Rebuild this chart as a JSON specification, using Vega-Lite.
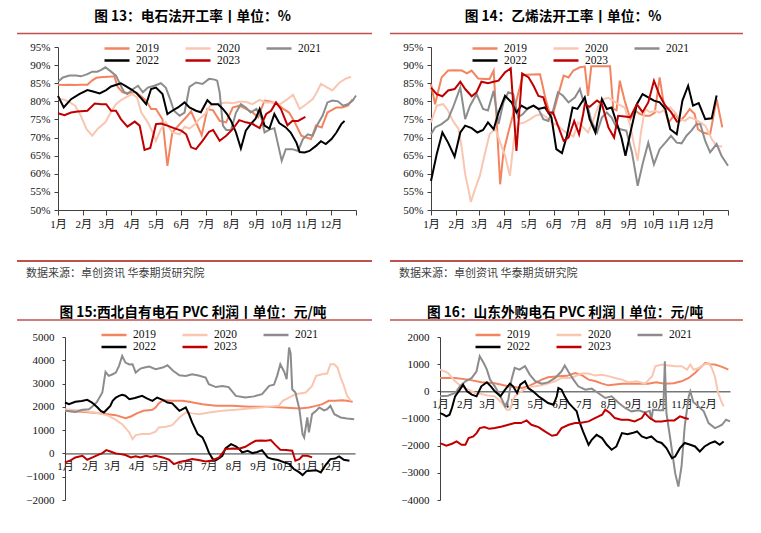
{
"$schema": "https://vega.github.io/schema/vega-lite/v6.json",
"padding": {"left": 16, "top": 10, "right": 5, "bottom": 5},
"background": "white",
"config": {
  "view": {"stroke": null},
  "font": "Liberation Serif",
  "title": {"font": "Noto Sans CJK SC", "fontSize": 13.7, "fontWeight": "bold", "color": "#000", "anchor": "middle", "baseline": "bottom", "frame": "group"},
  "axis": {"grid": false, "domainColor": "#404040", "tickColor": "#404040", "labelColor": "#111", "labelFont": "Liberation Serif, Noto Sans CJK SC", "labelFontSize": 11, "labelOverlap": false, "labelFlush": false},
  "legend": {"orient": "none", "direction": "horizontal", "columns": 3, "columnPadding": 25, "rowPadding": 0, "clipHeight": 12, "symbolType": "stroke", "symbolSize": 625, "symbolStrokeWidth": 2.5, "labelFont": "Liberation Serif", "labelFontSize": 11.5, "labelColor": "#111", "labelOffset": 5, "padding": 0}
},
"datasets": {
"p1": [
{"s":"2019","t":0,"v":84.6},{"s":"2019","t":7,"v":84.5},{"s":"2019","t":14,"v":84.6},{"s":"2019","t":21,"v":84.5},{"s":"2019","t":28,"v":84.6},{"s":"2019","t":36,"v":84.6},{"s":"2019","t":42,"v":85.8},{"s":"2019","t":47,"v":86.5},{"s":"2019","t":55,"v":86.7},{"s":"2019","t":62,"v":86.8},{"s":"2019","t":69,"v":86.9},{"s":"2019","t":73,"v":84},{"s":"2019","t":79,"v":82.5},{"s":"2019","t":86,"v":82.3},{"s":"2019","t":95,"v":82.5},{"s":"2019","t":101,"v":81.5},{"s":"2019","t":108,"v":80.2},{"s":"2019","t":114,"v":77.9},{"s":"2019","t":120,"v":77.9},{"s":"2019","t":128,"v":75},{"s":"2019","t":134,"v":62.2},{"s":"2019","t":140,"v":71.4},{"s":"2019","t":149,"v":73.7},{"s":"2019","t":157,"v":75.6},{"s":"2019","t":163,"v":77.2},{"s":"2019","t":169,"v":74.2},{"s":"2019","t":176,"v":70.7},{"s":"2019","t":183,"v":77.9},{"s":"2019","t":190,"v":77.5},{"s":"2019","t":198,"v":74.6},{"s":"2019","t":206,"v":74.2},{"s":"2019","t":214,"v":78.3},{"s":"2019","t":222,"v":78.8},{"s":"2019","t":230,"v":77.9},{"s":"2019","t":238,"v":77},{"s":"2019","t":245,"v":75.6},{"s":"2019","t":253,"v":80.2},{"s":"2019","t":261,"v":79.9},{"s":"2019","t":269,"v":79.2},{"s":"2019","t":276,"v":77.9},{"s":"2019","t":283,"v":76.9},{"s":"2019","t":290,"v":74.2},{"s":"2019","t":298,"v":70.5},{"s":"2019","t":304,"v":70},{"s":"2019","t":310,"v":69.6},{"s":"2019","t":316,"v":73.3},{"s":"2019","t":323,"v":72.8},{"s":"2019","t":330,"v":76.9},{"s":"2019","t":341,"v":78.3},{"s":"2019","t":348,"v":78.3},{"s":"2019","t":355,"v":78.8},{"s":"2019","t":361,"v":80.6},
{"s":"2020","t":0,"v":80.7},{"s":"2020","t":7,"v":80.5},{"s":"2020","t":14,"v":79.8},{"s":"2020","t":21,"v":78.8},{"s":"2020","t":28,"v":76},{"s":"2020","t":35,"v":72.3},{"s":"2020","t":42,"v":70.5},{"s":"2020","t":49,"v":72.5},{"s":"2020","t":58,"v":74.2},{"s":"2020","t":66,"v":77.5},{"s":"2020","t":71,"v":79.2},{"s":"2020","t":78,"v":80.5},{"s":"2020","t":83,"v":81.1},{"s":"2020","t":91,"v":82},{"s":"2020","t":97,"v":81},{"s":"2020","t":102,"v":76.9},{"s":"2020","t":110,"v":74.2},{"s":"2020","t":116,"v":71.4},{"s":"2020","t":120,"v":69.1},{"s":"2020","t":126,"v":72.3},{"s":"2020","t":132,"v":74.2},{"s":"2020","t":140,"v":71.4},{"s":"2020","t":149,"v":70.9},{"s":"2020","t":155,"v":73},{"s":"2020","t":161,"v":72.5},{"s":"2020","t":167,"v":73.5},{"s":"2020","t":173,"v":75.1},{"s":"2020","t":180,"v":76.5},{"s":"2020","t":187,"v":79},{"s":"2020","t":194,"v":79.2},{"s":"2020","t":200,"v":79.5},{"s":"2020","t":206,"v":79.7},{"s":"2020","t":214,"v":79.5},{"s":"2020","t":222,"v":79.9},{"s":"2020","t":230,"v":79.9},{"s":"2020","t":238,"v":79.2},{"s":"2020","t":247,"v":80.4},{"s":"2020","t":255,"v":79.7},{"s":"2020","t":263,"v":79.7},{"s":"2020","t":272,"v":79.2},{"s":"2020","t":281,"v":80.6},{"s":"2020","t":288,"v":81.8},{"s":"2020","t":296,"v":77.9},{"s":"2020","t":304,"v":79.2},{"s":"2020","t":312,"v":80.6},{"s":"2020","t":317,"v":82.5},{"s":"2020","t":322,"v":84.8},{"s":"2020","t":330,"v":83.8},{"s":"2020","t":336,"v":83},{"s":"2020","t":345,"v":85.2},{"s":"2020","t":353,"v":86.3},{"s":"2020","t":359,"v":86.8},
{"s":"2021","t":0,"v":85.4},{"s":"2021","t":6,"v":86.6},{"s":"2021","t":14,"v":87.1},{"s":"2021","t":22,"v":87.1},{"s":"2021","t":28,"v":86.9},{"s":"2021","t":36,"v":87.5},{"s":"2021","t":42,"v":88.2},{"s":"2021","t":48,"v":88.2},{"s":"2021","t":53,"v":88.7},{"s":"2021","t":58,"v":89.4},{"s":"2021","t":65,"v":88.2},{"s":"2021","t":71,"v":87.1},{"s":"2021","t":77,"v":84.3},{"s":"2021","t":81,"v":82.5},{"s":"2021","t":85,"v":82},{"s":"2021","t":92,"v":83.4},{"s":"2021","t":98,"v":84.3},{"s":"2021","t":104,"v":82.5},{"s":"2021","t":110,"v":83.8},{"s":"2021","t":118,"v":84.3},{"s":"2021","t":126,"v":85},{"s":"2021","t":132,"v":83.8},{"s":"2021","t":138,"v":80.2},{"s":"2021","t":142,"v":77.4},{"s":"2021","t":149,"v":76},{"s":"2021","t":155,"v":76.9},{"s":"2021","t":161,"v":84},{"s":"2021","t":169,"v":85.2},{"s":"2021","t":177,"v":84.8},{"s":"2021","t":185,"v":86.2},{"s":"2021","t":192,"v":86},{"s":"2021","t":195,"v":85.7},{"s":"2021","t":198,"v":82.5},{"s":"2021","t":202,"v":73.3},{"s":"2021","t":206,"v":72.1},{"s":"2021","t":212,"v":72.1},{"s":"2021","t":218,"v":76.9},{"s":"2021","t":224,"v":79.2},{"s":"2021","t":230,"v":78.3},{"s":"2021","t":236,"v":76.9},{"s":"2021","t":243,"v":77.9},{"s":"2021","t":249,"v":75.6},{"s":"2021","t":253,"v":71.4},{"s":"2021","t":259,"v":72.2},{"s":"2021","t":265,"v":72.6},{"s":"2021","t":269,"v":68.6},{"s":"2021","t":274,"v":63.6},{"s":"2021","t":279,"v":66.8},{"s":"2021","t":287,"v":66.8},{"s":"2021","t":294,"v":66.3},{"s":"2021","t":300,"v":69.6},{"s":"2021","t":306,"v":70.9},{"s":"2021","t":312,"v":70.5},{"s":"2021","t":318,"v":73.7},{"s":"2021","t":324,"v":76},{"s":"2021","t":330,"v":79.7},{"s":"2021","t":336,"v":80.2},{"s":"2021","t":343,"v":80},{"s":"2021","t":349,"v":78.8},{"s":"2021","t":355,"v":79.2},{"s":"2021","t":361,"v":80.2},{"s":"2021","t":365,"v":81.6},
{"s":"2022","t":0,"v":81.5},{"s":"2022","t":7,"v":78.3},{"s":"2022","t":16,"v":80.6},{"s":"2022","t":26,"v":82},{"s":"2022","t":36,"v":83.1},{"s":"2022","t":43,"v":82.7},{"s":"2022","t":51,"v":82.2},{"s":"2022","t":59,"v":83.1},{"s":"2022","t":65,"v":84.1},{"s":"2022","t":77,"v":85},{"s":"2022","t":83,"v":84.2},{"s":"2022","t":89,"v":83.4},{"s":"2022","t":96,"v":82.3},{"s":"2022","t":102,"v":80.8},{"s":"2022","t":108,"v":79.2},{"s":"2022","t":114,"v":83.4},{"s":"2022","t":120,"v":83.8},{"s":"2022","t":128,"v":82},{"s":"2022","t":134,"v":76.5},{"s":"2022","t":140,"v":77.4},{"s":"2022","t":147,"v":78.3},{"s":"2022","t":155,"v":79.7},{"s":"2022","t":161,"v":78.3},{"s":"2022","t":169,"v":77.4},{"s":"2022","t":175,"v":77},{"s":"2022","t":183,"v":80.3},{"s":"2022","t":188,"v":79.2},{"s":"2022","t":196,"v":79.2},{"s":"2022","t":202,"v":77.9},{"s":"2022","t":207,"v":76.5},{"s":"2022","t":212,"v":74.6},{"s":"2022","t":218,"v":71.4},{"s":"2022","t":224,"v":67},{"s":"2022","t":230,"v":71.9},{"s":"2022","t":236,"v":73.7},{"s":"2022","t":242,"v":75.2},{"s":"2022","t":247,"v":77.9},{"s":"2022","t":253,"v":73.3},{"s":"2022","t":259,"v":72.5},{"s":"2022","t":265,"v":76.5},{"s":"2022","t":271,"v":74},{"s":"2022","t":279,"v":72.8},{"s":"2022","t":285,"v":71.4},{"s":"2022","t":292,"v":68.6},{"s":"2022","t":296,"v":66},{"s":"2022","t":302,"v":65.9},{"s":"2022","t":308,"v":66.3},{"s":"2022","t":316,"v":67.7},{"s":"2022","t":322,"v":69},{"s":"2022","t":328,"v":68.2},{"s":"2022","t":335,"v":69.6},{"s":"2022","t":341,"v":71.4},{"s":"2022","t":347,"v":73.7},{"s":"2022","t":351,"v":74.6},
{"s":"2023","t":0,"v":76.7},{"s":"2023","t":8,"v":76.2},{"s":"2023","t":16,"v":76.9},{"s":"2023","t":24,"v":77.2},{"s":"2023","t":36,"v":77.4},{"s":"2023","t":45,"v":79.4},{"s":"2023","t":53,"v":79.2},{"s":"2023","t":59,"v":79.2},{"s":"2023","t":65,"v":77.4},{"s":"2023","t":71,"v":77.4},{"s":"2023","t":77,"v":75.1},{"s":"2023","t":85,"v":73},{"s":"2023","t":94,"v":74.4},{"s":"2023","t":100,"v":73.3},{"s":"2023","t":106,"v":66.6},{"s":"2023","t":113,"v":67.1},{"s":"2023","t":120,"v":73.7},{"s":"2023","t":126,"v":73.9},{"s":"2023","t":134,"v":73.3},{"s":"2023","t":142,"v":72.6},{"s":"2023","t":151,"v":71.9},{"s":"2023","t":157,"v":70.9},{"s":"2023","t":163,"v":67.3},{"s":"2023","t":169,"v":66.8},{"s":"2023","t":177,"v":69.1},{"s":"2023","t":185,"v":71.6},{"s":"2023","t":190,"v":72.1},{"s":"2023","t":198,"v":69.1},{"s":"2023","t":206,"v":70.5},{"s":"2023","t":214,"v":72.3},{"s":"2023","t":222,"v":74.8},{"s":"2023","t":230,"v":74.2},{"s":"2023","t":238,"v":73.8},{"s":"2023","t":247,"v":72.6},{"s":"2023","t":255,"v":76.5},{"s":"2023","t":261,"v":77.4},{"s":"2023","t":267,"v":79.7},{"s":"2023","t":273,"v":77.9},{"s":"2023","t":281,"v":73.4},{"s":"2023","t":287,"v":74.6},{"s":"2023","t":294,"v":74.6},{"s":"2023","t":303,"v":75.7}
],
"p2": [
{"s":"2019","t":0,"v":84.8},{"s":"2019","t":5,"v":79.2},{"s":"2019","t":13,"v":86.6},{"s":"2019","t":21,"v":88.5},{"s":"2019","t":29,"v":88.6},{"s":"2019","t":38,"v":88.5},{"s":"2019","t":44,"v":87.7},{"s":"2019","t":50,"v":88.5},{"s":"2019","t":58,"v":86.3},{"s":"2019","t":66,"v":86.2},{"s":"2019","t":72,"v":86.2},{"s":"2019","t":77,"v":88.5},{"s":"2019","t":81,"v":73.3},{"s":"2019","t":85,"v":57.1},{"s":"2019","t":89,"v":65.9},{"s":"2019","t":95,"v":71.4},{"s":"2019","t":101,"v":76.5},{"s":"2019","t":107,"v":82},{"s":"2019","t":113,"v":87.3},{"s":"2019","t":124,"v":87.4},{"s":"2019","t":134,"v":87.5},{"s":"2019","t":140,"v":81.5},{"s":"2019","t":146,"v":76.5},{"s":"2019","t":150,"v":76.5},{"s":"2019","t":156,"v":81.5},{"s":"2019","t":163,"v":87.1},{"s":"2019","t":169,"v":86.6},{"s":"2019","t":175,"v":88.5},{"s":"2019","t":183,"v":89.4},{"s":"2019","t":189,"v":89.6},{"s":"2019","t":193,"v":81.5},{"s":"2019","t":197,"v":89.7},{"s":"2019","t":205,"v":89.7},{"s":"2019","t":213,"v":89.7},{"s":"2019","t":220,"v":89.7},{"s":"2019","t":224,"v":77.9},{"s":"2019","t":228,"v":77.5},{"s":"2019","t":232,"v":85.7},{"s":"2019","t":238,"v":80.2},{"s":"2019","t":245,"v":75.1},{"s":"2019","t":251,"v":77.4},{"s":"2019","t":257,"v":76.5},{"s":"2019","t":263,"v":76},{"s":"2019","t":269,"v":76},{"s":"2019","t":275,"v":76.9},{"s":"2019","t":281,"v":86.6},{"s":"2019","t":287,"v":77.9},{"s":"2019","t":292,"v":74.2},{"s":"2019","t":300,"v":76.5},{"s":"2019","t":306,"v":74.6},{"s":"2019","t":312,"v":76},{"s":"2019","t":318,"v":77.9},{"s":"2019","t":324,"v":76.5},{"s":"2019","t":328,"v":72.3},{"s":"2019","t":334,"v":71.4},{"s":"2019","t":343,"v":70.9},{"s":"2019","t":351,"v":80.6},{"s":"2019","t":358,"v":72.8},
{"s":"2020","t":0,"v":74.2},{"s":"2020","t":7,"v":78.8},{"s":"2020","t":15,"v":79.2},{"s":"2020","t":21,"v":77.4},{"s":"2020","t":27,"v":74.6},{"s":"2020","t":34,"v":72.3},{"s":"2020","t":38,"v":66.8},{"s":"2020","t":42,"v":59.9},{"s":"2020","t":46,"v":55.7},{"s":"2020","t":49,"v":52.2},{"s":"2020","t":54,"v":55.7},{"s":"2020","t":60,"v":59.4},{"s":"2020","t":66,"v":65.4},{"s":"2020","t":72,"v":70.9},{"s":"2020","t":79,"v":72.5},{"s":"2020","t":85,"v":68.6},{"s":"2020","t":91,"v":65},{"s":"2020","t":97,"v":59.4},{"s":"2020","t":102,"v":69.6},{"s":"2020","t":107,"v":73.7},{"s":"2020","t":115,"v":74.2},{"s":"2020","t":122,"v":75.1},{"s":"2020","t":128,"v":76},{"s":"2020","t":136,"v":76.5},{"s":"2020","t":142,"v":75.6},{"s":"2020","t":148,"v":74.2},{"s":"2020","t":156,"v":73.3},{"s":"2020","t":163,"v":71.9},{"s":"2020","t":169,"v":71},{"s":"2020","t":175,"v":70.3},{"s":"2020","t":181,"v":74.2},{"s":"2020","t":187,"v":72.8},{"s":"2020","t":193,"v":71.4},{"s":"2020","t":199,"v":74.6},{"s":"2020","t":206,"v":78.8},{"s":"2020","t":212,"v":80.6},{"s":"2020","t":218,"v":81},{"s":"2020","t":224,"v":80.2},{"s":"2020","t":230,"v":79.2},{"s":"2020","t":238,"v":78.3},{"s":"2020","t":245,"v":73.3},{"s":"2020","t":249,"v":68.6},{"s":"2020","t":254,"v":63.6},{"s":"2020","t":258,"v":71.4},{"s":"2020","t":263,"v":77.9},{"s":"2020","t":269,"v":77},{"s":"2020","t":275,"v":77.4},{"s":"2020","t":281,"v":76.9},{"s":"2020","t":288,"v":77.8},{"s":"2020","t":294,"v":78.3},{"s":"2020","t":300,"v":76.9},{"s":"2020","t":306,"v":75.1},{"s":"2020","t":312,"v":74.6},{"s":"2020","t":318,"v":75.6},{"s":"2020","t":324,"v":75.1},{"s":"2020","t":331,"v":74.2},{"s":"2020","t":337,"v":73.3},{"s":"2020","t":345,"v":69.6},{"s":"2020","t":351,"v":67.7},{"s":"2020","t":358,"v":67.5},
{"s":"2021","t":0,"v":70.9},{"s":"2021","t":5,"v":72.8},{"s":"2021","t":13,"v":73.7},{"s":"2021","t":21,"v":75.1},{"s":"2021","t":27,"v":78.3},{"s":"2021","t":36,"v":83.8},{"s":"2021","t":42,"v":75.1},{"s":"2021","t":48,"v":78.8},{"s":"2021","t":56,"v":82},{"s":"2021","t":64,"v":77.9},{"s":"2021","t":70,"v":77.5},{"s":"2021","t":77,"v":82.9},{"s":"2021","t":83,"v":73.7},{"s":"2021","t":89,"v":79.7},{"s":"2021","t":95,"v":82.5},{"s":"2021","t":101,"v":82},{"s":"2021","t":107,"v":75.6},{"s":"2021","t":113,"v":76.5},{"s":"2021","t":120,"v":78.3},{"s":"2021","t":126,"v":78.8},{"s":"2021","t":132,"v":77.9},{"s":"2021","t":138,"v":75.1},{"s":"2021","t":144,"v":74.6},{"s":"2021","t":150,"v":77.4},{"s":"2021","t":156,"v":82.5},{"s":"2021","t":162,"v":81.6},{"s":"2021","t":169,"v":79.7},{"s":"2021","t":177,"v":81.1},{"s":"2021","t":183,"v":83.4},{"s":"2021","t":187,"v":80.2},{"s":"2021","t":193,"v":78.3},{"s":"2021","t":197,"v":74.6},{"s":"2021","t":204,"v":71.4},{"s":"2021","t":210,"v":75.5},{"s":"2021","t":216,"v":76.9},{"s":"2021","t":222,"v":75.5},{"s":"2021","t":228,"v":72.8},{"s":"2021","t":234,"v":72.2},{"s":"2021","t":240,"v":71.9},{"s":"2021","t":247,"v":65.9},{"s":"2021","t":254,"v":56.7},{"s":"2021","t":260,"v":62.6},{"s":"2021","t":267,"v":68.6},{"s":"2021","t":274,"v":62.6},{"s":"2021","t":281,"v":66.8},{"s":"2021","t":288,"v":68.6},{"s":"2021","t":295,"v":70.5},{"s":"2021","t":302,"v":68.6},{"s":"2021","t":308,"v":68.4},{"s":"2021","t":314,"v":70.5},{"s":"2021","t":320,"v":71.9},{"s":"2021","t":326,"v":73.7},{"s":"2021","t":331,"v":73.7},{"s":"2021","t":337,"v":69.1},{"s":"2021","t":343,"v":65.9},{"s":"2021","t":351,"v":68.2},{"s":"2021","t":357,"v":65},{"s":"2021","t":365,"v":62.2},
{"s":"2022","t":0,"v":58},{"s":"2022","t":7,"v":65.4},{"s":"2022","t":14,"v":71.4},{"s":"2022","t":21,"v":68.6},{"s":"2022","t":29,"v":64.7},{"s":"2022","t":36,"v":71.4},{"s":"2022","t":42,"v":73.3},{"s":"2022","t":50,"v":72.6},{"s":"2022","t":57,"v":71.4},{"s":"2022","t":64,"v":72.1},{"s":"2022","t":70,"v":74.2},{"s":"2022","t":77,"v":72.3},{"s":"2022","t":83,"v":76.9},{"s":"2022","t":91,"v":81.5},{"s":"2022","t":99,"v":79.7},{"s":"2022","t":105,"v":76.9},{"s":"2022","t":111,"v":78.8},{"s":"2022","t":118,"v":77.9},{"s":"2022","t":126,"v":78.8},{"s":"2022","t":132,"v":77.9},{"s":"2022","t":140,"v":78.3},{"s":"2022","t":148,"v":75.6},{"s":"2022","t":154,"v":66.8},{"s":"2022","t":161,"v":65.7},{"s":"2022","t":167,"v":70.5},{"s":"2022","t":174,"v":78.3},{"s":"2022","t":180,"v":77.9},{"s":"2022","t":189,"v":81.1},{"s":"2022","t":195,"v":75.1},{"s":"2022","t":202,"v":71.4},{"s":"2022","t":210,"v":80.6},{"s":"2022","t":216,"v":77.9},{"s":"2022","t":222,"v":78.3},{"s":"2022","t":228,"v":74.2},{"s":"2022","t":234,"v":70},{"s":"2022","t":239,"v":65},{"s":"2022","t":246,"v":72.3},{"s":"2022","t":253,"v":79.2},{"s":"2022","t":260,"v":82},{"s":"2022","t":267,"v":81.1},{"s":"2022","t":274,"v":80.2},{"s":"2022","t":281,"v":79.7},{"s":"2022","t":288,"v":77.9},{"s":"2022","t":294,"v":72.3},{"s":"2022","t":302,"v":70.9},{"s":"2022","t":309,"v":80.2},{"s":"2022","t":316,"v":84.3},{"s":"2022","t":322,"v":78.8},{"s":"2022","t":329,"v":79.5},{"s":"2022","t":337,"v":75.1},{"s":"2022","t":345,"v":75.3},{"s":"2022","t":351,"v":81.6},
{"s":"2023","t":0,"v":83.8},{"s":"2023","t":7,"v":82},{"s":"2023","t":14,"v":81.4},{"s":"2023","t":21,"v":83},{"s":"2023","t":29,"v":83.4},{"s":"2023","t":36,"v":85.4},{"s":"2023","t":42,"v":83.4},{"s":"2023","t":50,"v":81.4},{"s":"2023","t":56,"v":82.5},{"s":"2023","t":62,"v":85.4},{"s":"2023","t":70,"v":85},{"s":"2023","t":77,"v":85.4},{"s":"2023","t":83,"v":85.7},{"s":"2023","t":91,"v":88},{"s":"2023","t":98,"v":89.1},{"s":"2023","t":105,"v":66.3},{"s":"2023","t":112,"v":87.7},{"s":"2023","t":120,"v":86.6},{"s":"2023","t":126,"v":84.3},{"s":"2023","t":132,"v":81.5},{"s":"2023","t":138,"v":81.1},{"s":"2023","t":144,"v":76.9},{"s":"2023","t":150,"v":76.9},{"s":"2023","t":156,"v":73.3},{"s":"2023","t":163,"v":69.1},{"s":"2023","t":169,"v":70},{"s":"2023","t":176,"v":74.6},{"s":"2023","t":182,"v":70.9},{"s":"2023","t":187,"v":76.5},{"s":"2023","t":189,"v":79.2},{"s":"2023","t":195,"v":78.5},{"s":"2023","t":204,"v":80.2},{"s":"2023","t":210,"v":79.3},{"s":"2023","t":218,"v":72.8},{"s":"2023","t":225,"v":70},{"s":"2023","t":230,"v":76},{"s":"2023","t":238,"v":75.8},{"s":"2023","t":245,"v":75.6},{"s":"2023","t":253,"v":79.2},{"s":"2023","t":260,"v":77},{"s":"2023","t":267,"v":79.7},{"s":"2023","t":274,"v":85.7},{"s":"2023","t":281,"v":81.6},{"s":"2023","t":288,"v":78.8},{"s":"2023","t":295,"v":77},{"s":"2023","t":303,"v":74.2}
],
"p3": [
{"s":"2019","t":0,"v":1830},{"s":"2019","t":22,"v":1785},{"s":"2019","t":43,"v":1730},{"s":"2019","t":64,"v":1644},{"s":"2019","t":76,"v":1515},{"s":"2019","t":83,"v":1587},{"s":"2019","t":91,"v":1730},{"s":"2019","t":99,"v":1830},{"s":"2019","t":110,"v":1873},{"s":"2019","t":114,"v":1973},{"s":"2019","t":118,"v":2150},{"s":"2019","t":123,"v":2280},{"s":"2019","t":135,"v":2260},{"s":"2019","t":148,"v":2258},{"s":"2019","t":156,"v":2215},{"s":"2019","t":173,"v":2115},{"s":"2019","t":190,"v":2043},{"s":"2019","t":211,"v":2043},{"s":"2019","t":232,"v":2000},{"s":"2019","t":253,"v":2000},{"s":"2019","t":274,"v":1972},{"s":"2019","t":295,"v":1929},{"s":"2019","t":307,"v":1972},{"s":"2019","t":316,"v":2043},{"s":"2019","t":324,"v":2115},{"s":"2019","t":332,"v":2258},{"s":"2019","t":340,"v":2258},{"s":"2019","t":349,"v":2280},{"s":"2019","t":355,"v":2258},{"s":"2019","t":362,"v":2215},
{"s":"2020","t":0,"v":1900},{"s":"2020","t":22,"v":1830},{"s":"2020","t":43,"v":1730},{"s":"2020","t":55,"v":1615},{"s":"2020","t":64,"v":1444},{"s":"2020","t":72,"v":1258},{"s":"2020","t":81,"v":901},{"s":"2020","t":85,"v":615},{"s":"2020","t":89,"v":787},{"s":"2020","t":97,"v":830},{"s":"2020","t":106,"v":830},{"s":"2020","t":114,"v":930},{"s":"2020","t":118,"v":1115},{"s":"2020","t":127,"v":1150},{"s":"2020","t":135,"v":1215},{"s":"2020","t":144,"v":1544},{"s":"2020","t":152,"v":1758},{"s":"2020","t":160,"v":1720},{"s":"2020","t":169,"v":1687},{"s":"2020","t":181,"v":1760},{"s":"2020","t":198,"v":1830},{"s":"2020","t":215,"v":1873},{"s":"2020","t":232,"v":1930},{"s":"2020","t":250,"v":1980},{"s":"2020","t":269,"v":2044},{"s":"2020","t":274,"v":2258},{"s":"2020","t":282,"v":2400},{"s":"2020","t":290,"v":2543},{"s":"2020","t":303,"v":2615},{"s":"2020","t":311,"v":2900},{"s":"2020","t":316,"v":3330},{"s":"2020","t":324,"v":3400},{"s":"2020","t":330,"v":3430},{"s":"2020","t":334,"v":3830},{"s":"2020","t":339,"v":3830},{"s":"2020","t":343,"v":3687},{"s":"2020","t":347,"v":3258},{"s":"2020","t":351,"v":2900},{"s":"2020","t":355,"v":2472},{"s":"2020","t":360,"v":2258},
{"s":"2021","t":0,"v":1830},{"s":"2021","t":13,"v":1785},{"s":"2021","t":22,"v":1873},{"s":"2021","t":30,"v":1900},{"s":"2021","t":34,"v":2000},{"s":"2021","t":40,"v":2200},{"s":"2021","t":47,"v":2615},{"s":"2021","t":51,"v":3500},{"s":"2021","t":55,"v":3330},{"s":"2021","t":60,"v":3400},{"s":"2021","t":64,"v":3472},{"s":"2021","t":68,"v":3760},{"s":"2021","t":72,"v":4187},{"s":"2021","t":76,"v":3900},{"s":"2021","t":81,"v":3820},{"s":"2021","t":85,"v":3830},{"s":"2021","t":89,"v":3472},{"s":"2021","t":95,"v":3644},{"s":"2021","t":100,"v":3690},{"s":"2021","t":106,"v":3730},{"s":"2021","t":114,"v":3620},{"s":"2021","t":123,"v":3687},{"s":"2021","t":129,"v":3786},{"s":"2021","t":136,"v":3550},{"s":"2021","t":144,"v":3358},{"s":"2021","t":152,"v":3330},{"s":"2021","t":160,"v":3400},{"s":"2021","t":168,"v":3350},{"s":"2021","t":177,"v":3258},{"s":"2021","t":181,"v":2972},{"s":"2021","t":190,"v":2850},{"s":"2021","t":198,"v":2900},{"s":"2021","t":206,"v":2850},{"s":"2021","t":215,"v":2472},{"s":"2021","t":227,"v":2400},{"s":"2021","t":238,"v":2450},{"s":"2021","t":248,"v":2543},{"s":"2021","t":257,"v":2900},{"s":"2021","t":263,"v":2950},{"s":"2021","t":267,"v":3330},{"s":"2021","t":271,"v":3830},{"s":"2021","t":276,"v":3500},{"s":"2021","t":279,"v":3187},{"s":"2021","t":282,"v":4545},{"s":"2021","t":284,"v":4300},{"s":"2021","t":286,"v":2758},{"s":"2021","t":290,"v":2615},{"s":"2021","t":295,"v":1900},{"s":"2021","t":299,"v":830},{"s":"2021","t":301,"v":687},{"s":"2021","t":305,"v":1544},{"s":"2021","t":307,"v":901},{"s":"2021","t":311,"v":1687},{"s":"2021","t":316,"v":1830},{"s":"2021","t":320,"v":1973},{"s":"2021","t":326,"v":1850},{"s":"2021","t":330,"v":1900},{"s":"2021","t":334,"v":2044},{"s":"2021","t":339,"v":1687},{"s":"2021","t":347,"v":1544},{"s":"2021","t":355,"v":1500},{"s":"2021","t":364,"v":1472},
{"s":"2022","t":0,"v":2186},{"s":"2022","t":5,"v":2115},{"s":"2022","t":13,"v":2215},{"s":"2022","t":21,"v":2250},{"s":"2022","t":28,"v":2300},{"s":"2022","t":34,"v":2186},{"s":"2022","t":41,"v":1972},{"s":"2022","t":45,"v":1829},{"s":"2022","t":49,"v":1758},{"s":"2022","t":53,"v":1900},{"s":"2022","t":57,"v":2044},{"s":"2022","t":60,"v":2258},{"s":"2022","t":64,"v":2400},{"s":"2022","t":68,"v":2472},{"s":"2022","t":72,"v":2515},{"s":"2022","t":76,"v":2480},{"s":"2022","t":81,"v":2330},{"s":"2022","t":88,"v":2380},{"s":"2022","t":97,"v":2472},{"s":"2022","t":103,"v":2360},{"s":"2022","t":110,"v":2258},{"s":"2022","t":116,"v":2400},{"s":"2022","t":123,"v":2300},{"s":"2022","t":129,"v":2186},{"s":"2022","t":135,"v":2150},{"s":"2022","t":140,"v":1973},{"s":"2022","t":144,"v":1830},{"s":"2022","t":148,"v":1900},{"s":"2022","t":152,"v":1973},{"s":"2022","t":156,"v":1687},{"s":"2022","t":160,"v":1330},{"s":"2022","t":167,"v":830},{"s":"2022","t":173,"v":687},{"s":"2022","t":177,"v":400},{"s":"2022","t":181,"v":43},{"s":"2022","t":186,"v":-243},{"s":"2022","t":190,"v":-286},{"s":"2022","t":194,"v":-200},{"s":"2022","t":198,"v":-100},{"s":"2022","t":202,"v":215},{"s":"2022","t":209,"v":400},{"s":"2022","t":215,"v":300},{"s":"2022","t":219,"v":200},{"s":"2022","t":223,"v":43},{"s":"2022","t":230,"v":115},{"s":"2022","t":236,"v":15},{"s":"2022","t":242,"v":60},{"s":"2022","t":248,"v":143},{"s":"2022","t":255,"v":-171},{"s":"2022","t":261,"v":-243},{"s":"2022","t":268,"v":-280},{"s":"2022","t":276,"v":-386},{"s":"2022","t":282,"v":-450},{"s":"2022","t":288,"v":-671},{"s":"2022","t":295,"v":-814},{"s":"2022","t":299,"v":-930},{"s":"2022","t":304,"v":-760},{"s":"2022","t":309,"v":-742},{"s":"2022","t":316,"v":-720},{"s":"2022","t":322,"v":-814},{"s":"2022","t":328,"v":-500},{"s":"2022","t":334,"v":-243},{"s":"2022","t":340,"v":-220},{"s":"2022","t":345,"v":-129},{"s":"2022","t":351,"v":-271},{"s":"2022","t":358,"v":-314},
{"s":"2023","t":0,"v":-386},{"s":"2023","t":7,"v":-300},{"s":"2023","t":13,"v":-171},{"s":"2023","t":22,"v":-100},{"s":"2023","t":28,"v":-271},{"s":"2023","t":34,"v":-180},{"s":"2023","t":41,"v":-71},{"s":"2023","t":47,"v":15},{"s":"2023","t":52,"v":143},{"s":"2023","t":58,"v":70},{"s":"2023","t":64,"v":0},{"s":"2023","t":70,"v":-30},{"s":"2023","t":76,"v":-71},{"s":"2023","t":83,"v":-171},{"s":"2023","t":89,"v":-120},{"s":"2023","t":95,"v":-171},{"s":"2023","t":102,"v":-100},{"s":"2023","t":108,"v":-150},{"s":"2023","t":114,"v":-100},{"s":"2023","t":123,"v":-171},{"s":"2023","t":131,"v":-271},{"s":"2023","t":137,"v":-457},{"s":"2023","t":144,"v":-371},{"s":"2023","t":152,"v":-314},{"s":"2023","t":160,"v":-243},{"s":"2023","t":168,"v":-280},{"s":"2023","t":177,"v":-343},{"s":"2023","t":185,"v":-300},{"s":"2023","t":194,"v":-171},{"s":"2023","t":202,"v":186},{"s":"2023","t":211,"v":215},{"s":"2023","t":219,"v":200},{"s":"2023","t":227,"v":287},{"s":"2023","t":234,"v":429},{"s":"2023","t":240,"v":543},{"s":"2023","t":247,"v":560},{"s":"2023","t":253,"v":543},{"s":"2023","t":259,"v":572},{"s":"2023","t":265,"v":358},{"s":"2023","t":271,"v":158},{"s":"2023","t":278,"v":150},{"s":"2023","t":286,"v":115},{"s":"2023","t":290,"v":-314},{"s":"2023","t":295,"v":-250},{"s":"2023","t":299,"v":-100},{"s":"2023","t":305,"v":-100},{"s":"2023","t":311,"v":-171}
],
"p4": [
{"s":"2019","t":0,"v":493},{"s":"2019","t":19,"v":493},{"s":"2019","t":36,"v":431},{"s":"2019","t":52,"v":333},{"s":"2019","t":69,"v":300},{"s":"2019","t":86,"v":185},{"s":"2019","t":103,"v":124},{"s":"2019","t":111,"v":185},{"s":"2019","t":120,"v":308},{"s":"2019","t":128,"v":431},{"s":"2019","t":136,"v":517},{"s":"2019","t":149,"v":554},{"s":"2019","t":160,"v":570},{"s":"2019","t":170,"v":677},{"s":"2019","t":178,"v":600},{"s":"2019","t":187,"v":431},{"s":"2019","t":195,"v":380},{"s":"2019","t":204,"v":283},{"s":"2019","t":212,"v":220},{"s":"2019","t":229,"v":283},{"s":"2019","t":245,"v":283},{"s":"2019","t":262,"v":283},{"s":"2019","t":272,"v":333},{"s":"2019","t":283,"v":283},{"s":"2019","t":294,"v":300},{"s":"2019","t":304,"v":370},{"s":"2019","t":313,"v":493},{"s":"2019","t":321,"v":677},{"s":"2019","t":327,"v":862},{"s":"2019","t":334,"v":1046},{"s":"2019","t":340,"v":1000},{"s":"2019","t":346,"v":985},{"s":"2019","t":355,"v":899},{"s":"2019","t":363,"v":800},
{"s":"2020","t":0,"v":800},{"s":"2020","t":10,"v":677},{"s":"2020","t":19,"v":370},{"s":"2020","t":27,"v":185},{"s":"2020","t":36,"v":62},{"s":"2020","t":44,"v":-61},{"s":"2020","t":52,"v":-100},{"s":"2020","t":60,"v":-150},{"s":"2020","t":69,"v":-184},{"s":"2020","t":78,"v":-430},{"s":"2020","t":84,"v":-676},{"s":"2020","t":88,"v":-676},{"s":"2020","t":92,"v":-307},{"s":"2020","t":94,"v":-184},{"s":"2020","t":100,"v":-50},{"s":"2020","t":111,"v":160},{"s":"2020","t":120,"v":185},{"s":"2020","t":132,"v":247},{"s":"2020","t":145,"v":370},{"s":"2020","t":153,"v":493},{"s":"2020","t":165,"v":493},{"s":"2020","t":178,"v":653},{"s":"2020","t":187,"v":653},{"s":"2020","t":195,"v":579},{"s":"2020","t":204,"v":610},{"s":"2020","t":212,"v":560},{"s":"2020","t":220,"v":493},{"s":"2020","t":229,"v":431},{"s":"2020","t":237,"v":333},{"s":"2020","t":248,"v":370},{"s":"2020","t":258,"v":283},{"s":"2020","t":267,"v":554},{"s":"2020","t":271,"v":923},{"s":"2020","t":279,"v":985},{"s":"2020","t":288,"v":950},{"s":"2020","t":296,"v":923},{"s":"2020","t":304,"v":923},{"s":"2020","t":311,"v":800},{"s":"2020","t":315,"v":985},{"s":"2020","t":319,"v":800},{"s":"2020","t":325,"v":850},{"s":"2020","t":332,"v":985},{"s":"2020","t":338,"v":1046},{"s":"2020","t":342,"v":862},{"s":"2020","t":346,"v":554},{"s":"2020","t":350,"v":-61},{"s":"2020","t":355,"v":-430},{"s":"2020","t":357,"v":-553},
{"s":"2021","t":0,"v":-184},{"s":"2021","t":10,"v":-160},{"s":"2021","t":19,"v":-61},{"s":"2021","t":25,"v":185},{"s":"2021","t":32,"v":370},{"s":"2021","t":40,"v":493},{"s":"2021","t":46,"v":738},{"s":"2021","t":50,"v":1292},{"s":"2021","t":55,"v":1046},{"s":"2021","t":59,"v":800},{"s":"2021","t":63,"v":431},{"s":"2021","t":69,"v":185},{"s":"2021","t":76,"v":-184},{"s":"2021","t":82,"v":-553},{"s":"2021","t":86,"v":-307},{"s":"2021","t":90,"v":431},{"s":"2021","t":94,"v":862},{"s":"2021","t":100,"v":800},{"s":"2021","t":107,"v":923},{"s":"2021","t":113,"v":616},{"s":"2021","t":120,"v":370},{"s":"2021","t":128,"v":283},{"s":"2021","t":136,"v":330},{"s":"2021","t":145,"v":493},{"s":"2021","t":153,"v":738},{"s":"2021","t":157,"v":948},{"s":"2021","t":162,"v":700},{"s":"2021","t":168,"v":431},{"s":"2021","t":174,"v":185},{"s":"2021","t":183,"v":62},{"s":"2021","t":191,"v":100},{"s":"2021","t":199,"v":-61},{"s":"2021","t":208,"v":-246},{"s":"2021","t":216,"v":-184},{"s":"2021","t":225,"v":-430},{"s":"2021","t":233,"v":-614},{"s":"2021","t":241,"v":-737},{"s":"2021","t":250,"v":-700},{"s":"2021","t":258,"v":-775},{"s":"2021","t":264,"v":-720},{"s":"2021","t":266,"v":-1050},{"s":"2021","t":268,"v":-676},{"s":"2021","t":275,"v":-700},{"s":"2021","t":281,"v":-700},{"s":"2021","t":283,"v":1107},{"s":"2021","t":285,"v":-800},{"s":"2021","t":290,"v":-1783},{"s":"2021","t":296,"v":-3013},{"s":"2021","t":300,"v":-3505},{"s":"2021","t":304,"v":-2767},{"s":"2021","t":308,"v":-1291},{"s":"2021","t":313,"v":-200},{"s":"2021","t":315,"v":0},{"s":"2021","t":319,"v":-400},{"s":"2021","t":325,"v":-553},{"s":"2021","t":332,"v":-737},{"s":"2021","t":338,"v":-1168},{"s":"2021","t":346,"v":-1353},{"s":"2021","t":351,"v":-1290},{"s":"2021","t":355,"v":-1230},{"s":"2021","t":360,"v":-1045},{"s":"2021","t":365,"v":-1107},
{"s":"2022","t":0,"v":-800},{"s":"2022","t":4,"v":-850},{"s":"2022","t":8,"v":-922},{"s":"2022","t":12,"v":-860},{"s":"2022","t":15,"v":-615},{"s":"2022","t":19,"v":-184},{"s":"2022","t":25,"v":62},{"s":"2022","t":29,"v":247},{"s":"2022","t":34,"v":0},{"s":"2022","t":40,"v":-123},{"s":"2022","t":46,"v":-184},{"s":"2022","t":52,"v":185},{"s":"2022","t":59,"v":333},{"s":"2022","t":64,"v":185},{"s":"2022","t":69,"v":0},{"s":"2022","t":76,"v":-184},{"s":"2022","t":82,"v":62},{"s":"2022","t":88,"v":283},{"s":"2022","t":92,"v":185},{"s":"2022","t":97,"v":-61},{"s":"2022","t":101,"v":247},{"s":"2022","t":107,"v":370},{"s":"2022","t":111,"v":124},{"s":"2022","t":117,"v":0},{"s":"2022","t":124,"v":-184},{"s":"2022","t":130,"v":-307},{"s":"2022","t":136,"v":-430},{"s":"2022","t":143,"v":-492},{"s":"2022","t":147,"v":-184},{"s":"2022","t":149,"v":124},{"s":"2022","t":153,"v":62},{"s":"2022","t":157,"v":-184},{"s":"2022","t":162,"v":-430},{"s":"2022","t":166,"v":-553},{"s":"2022","t":172,"v":-737},{"s":"2022","t":176,"v":-1168},{"s":"2022","t":180,"v":-1476},{"s":"2022","t":187,"v":-1967},{"s":"2022","t":191,"v":-1783},{"s":"2022","t":197,"v":-1600},{"s":"2022","t":204,"v":-1720},{"s":"2022","t":210,"v":-1967},{"s":"2022","t":216,"v":-2152},{"s":"2022","t":222,"v":-2029},{"s":"2022","t":229,"v":-1537},{"s":"2022","t":236,"v":-1580},{"s":"2022","t":242,"v":-1537},{"s":"2022","t":248,"v":-1476},{"s":"2022","t":254,"v":-1660},{"s":"2022","t":260,"v":-1722},{"s":"2022","t":266,"v":-1660},{"s":"2022","t":273,"v":-1845},{"s":"2022","t":279,"v":-1900},{"s":"2022","t":285,"v":-2091},{"s":"2022","t":292,"v":-2460},{"s":"2022","t":296,"v":-2400},{"s":"2022","t":302,"v":-2091},{"s":"2022","t":308,"v":-1900},{"s":"2022","t":315,"v":-1967},{"s":"2022","t":321,"v":-2030},{"s":"2022","t":327,"v":-2213},{"s":"2022","t":333,"v":-2029},{"s":"2022","t":340,"v":-1906},{"s":"2022","t":346,"v":-1845},{"s":"2022","t":352,"v":-1967},{"s":"2022","t":357,"v":-1845},
{"s":"2023","t":0,"v":-1906},{"s":"2023","t":8,"v":-2004},{"s":"2023","t":15,"v":-1930},{"s":"2023","t":21,"v":-1845},{"s":"2023","t":27,"v":-1967},{"s":"2023","t":32,"v":-1967},{"s":"2023","t":36,"v":-1722},{"s":"2023","t":42,"v":-1660},{"s":"2023","t":46,"v":-1537},{"s":"2023","t":50,"v":-1353},{"s":"2023","t":56,"v":-1316},{"s":"2023","t":62,"v":-1380},{"s":"2023","t":69,"v":-1353},{"s":"2023","t":78,"v":-1291},{"s":"2023","t":86,"v":-1230},{"s":"2023","t":94,"v":-1168},{"s":"2023","t":102,"v":-1168},{"s":"2023","t":109,"v":-1070},{"s":"2023","t":115,"v":-1230},{"s":"2023","t":124,"v":-1316},{"s":"2023","t":132,"v":-1476},{"s":"2023","t":141,"v":-1636},{"s":"2023","t":147,"v":-1600},{"s":"2023","t":153,"v":-1353},{"s":"2023","t":162,"v":-1230},{"s":"2023","t":170,"v":-1168},{"s":"2023","t":176,"v":-1168},{"s":"2023","t":187,"v":-1107},{"s":"2023","t":195,"v":-984},{"s":"2023","t":204,"v":-861},{"s":"2023","t":208,"v":-676},{"s":"2023","t":214,"v":-799},{"s":"2023","t":220,"v":-984},{"s":"2023","t":228,"v":-1045},{"s":"2023","t":237,"v":-1045},{"s":"2023","t":245,"v":-1107},{"s":"2023","t":254,"v":-984},{"s":"2023","t":258,"v":-799},{"s":"2023","t":264,"v":-984},{"s":"2023","t":271,"v":-1107},{"s":"2023","t":279,"v":-1107},{"s":"2023","t":287,"v":-1070},{"s":"2023","t":295,"v":-1070},{"s":"2023","t":302,"v":-922},{"s":"2023","t":308,"v":-984},{"s":"2023","t":313,"v":-1020}
]
},
"concat": [
  {"width": 298, "height": 163,
   "title": {"text": "图 13：电石法开工率丨单位：%", "dx": -14.5, "offset": 9},
   "layer": [
    {"data": {"name": "p1"}, "mark": {"type": "line", "strokeWidth": 2},
     "encoding": {
      "x": {"field": "t", "type": "quantitative", "scale": {"domain": [0, 365], "nice": false, "zero": false},
        "axis": {"values": [0,31,59,90,120,151,181,212,243,273,304,334,365], "labelExpr": "datum.value >= 365 ? '' : (round(datum.value/30.42)+1) + '月'", "tickSize": 5, "labelPadding": 3, "title": null}},
      "y": {"field": "v", "type": "quantitative", "scale": {"domain": [50, 95], "nice": false, "zero": false},
        "axis": {"values": [50,55,60,65,70,75,80,85,90,95], "labelExpr": "datum.value + '%'", "tickSize": 4, "labelPadding": 4, "title": null}},
      "color": {"field": "s", "type": "nominal", "scale": {"domain": ["2019","2020","2021","2022","2023"], "range": ["#F4845F","#F9C6B1","#8C8C8C","#000000","#C00000"]},
        "legend": {"title": null, "legendX": 45, "legendY": -4.5}}
     }},
    {"data": {"values": [{}]}, "mark": {"type": "rule", "color": "#C0504D", "strokeWidth": 1.5},
     "encoding": {"x": {"value": -41}, "x2": {"value": 314}, "y": {"value": -13.5}}},
    {"data": {"values": [{}]}, "mark": {"type": "rule", "color": "#C0504D", "strokeWidth": 2},
     "encoding": {"x": {"value": -41}, "x2": {"value": 314}, "y": {"value": 214}}},
    {"data": {"values": [{}]}, "mark": {"type": "text", "text": "数据来源：卓创资讯 华泰期货研究院", "align": "left", "baseline": "middle", "font": "Noto Sans CJK SC", "fontSize": 11, "color": "#404040"},
     "encoding": {"x": {"value": -32}, "y": {"value": 226.5}}}
   ]},
  {"width": 297, "height": 163,
   "title": {"text": "图 14：乙烯法开工率丨单位：%", "dx": -16.5, "offset": 9},
   "layer": [
    {"data": {"name": "p2"}, "mark": {"type": "line", "strokeWidth": 2},
     "encoding": {
      "x": {"field": "t", "type": "quantitative", "scale": {"domain": [0, 365], "nice": false, "zero": false},
        "axis": {"values": [0,31,59,90,120,151,181,212,243,273,304,334,365], "labelExpr": "datum.value >= 365 ? '' : (round(datum.value/30.42)+1) + '月'", "tickSize": 5, "labelPadding": 3, "title": null}},
      "y": {"field": "v", "type": "quantitative", "scale": {"domain": [50, 95], "nice": false, "zero": false},
        "axis": {"values": [50,55,60,65,70,75,80,85,90,95], "labelExpr": "datum.value + '%'", "tickSize": 4, "labelPadding": 4, "title": null}},
      "color": {"field": "s", "type": "nominal", "scale": {"domain": ["2019","2020","2021","2022","2023"], "range": ["#F4845F","#F9C6B1","#8C8C8C","#000000","#C00000"]},
        "legend": {"title": null, "legendX": 40, "legendY": -4.5}}
     }},
    {"data": {"values": [{}]}, "mark": {"type": "rule", "color": "#C0504D", "strokeWidth": 1.5},
     "encoding": {"x": {"value": -41}, "x2": {"value": 312}, "y": {"value": -13.5}}},
    {"data": {"values": [{}]}, "mark": {"type": "rule", "color": "#C0504D", "strokeWidth": 2},
     "encoding": {"x": {"value": -41}, "x2": {"value": 312}, "y": {"value": 214}}},
    {"data": {"values": [{}]}, "mark": {"type": "text", "text": "数据来源：卓创资讯 华泰期货研究院", "align": "left", "baseline": "middle", "font": "Noto Sans CJK SC", "fontSize": 11, "color": "#404040"},
     "encoding": {"x": {"value": -32}, "y": {"value": 226.5}}}
   ]},
  {"width": 297, "height": 163,
   "title": {"text": "图 15:西北自有电石 PVC 利润丨单位：元/吨", "dx": -13.5, "offset": -0.5},
   "layer": [
    {"data": {"name": "p3"}, "mark": {"type": "line", "strokeWidth": 2},
     "encoding": {
      "x": {"field": "t", "type": "quantitative", "scale": {"domain": [0, 365], "range": [7, 297], "nice": false, "zero": false},
        "axis": {"values": [0,31,59,90,120,151,181,212,243,273,304,334,365], "labelExpr": "datum.value >= 365 ? '' : (round(datum.value/30.42)+1) + '月'", "ticks": false, "tickSize": 0, "labelPadding": 7, "offset": -46.57, "title": null, "domainColor": "#333"}},
      "y": {"field": "v", "type": "quantitative", "scale": {"domain": [-2000, 5000], "nice": false, "zero": false},
        "axis": {"values": [-2000,-1000,0,1000,2000,3000,4000,5000], "format": "d", "tickSize": 3, "labelPadding": 8, "offset": -7, "title": null}},
      "color": {"field": "s", "type": "nominal", "scale": {"domain": ["2019","2020","2021","2022","2023"], "range": ["#F4845F","#F9C6B1","#8C8C8C","#000000","#C00000"]},
        "legend": {"title": null, "legendX": 42, "legendY": -8}}
     }},
    {"data": {"values": [{}]}, "mark": {"type": "rule", "color": "#C0504D", "strokeWidth": 1.5},
     "encoding": {"x": {"value": -41}, "x2": {"value": 314}, "y": {"value": -17}}}
   ]},
  {"width": 299, "height": 163,
   "title": {"text": "图 16：山东外购电石 PVC 利润丨单位：元/吨", "dx": -15.5, "offset": -0.5},
   "layer": [
    {"data": {"name": "p4"}, "mark": {"type": "line", "strokeWidth": 2},
     "encoding": {
      "x": {"field": "t", "type": "quantitative", "scale": {"domain": [0, 365], "range": [9, 299], "nice": false, "zero": false},
        "axis": {"values": [0,31,59,90,120,151,181,212,243,273,304,334,365], "labelExpr": "datum.value >= 365 ? '' : (round(datum.value/30.42)+1) + '月'", "ticks": false, "tickSize": 0, "labelPadding": 7, "offset": -108.67, "title": null, "domainColor": "#333"}},
      "y": {"field": "v", "type": "quantitative", "scale": {"domain": [-4000, 2000], "nice": false, "zero": false},
        "axis": {"values": [-4000,-3000,-2000,-1000,0,1000,2000], "format": "d", "tickSize": 3, "labelPadding": 8, "offset": -9, "title": null}},
      "color": {"field": "s", "type": "nominal", "scale": {"domain": ["2019","2020","2021","2022","2023"], "range": ["#F4845F","#F9C6B1","#8C8C8C","#000000","#C00000"]},
        "legend": {"title": null, "legendX": 43, "legendY": -8}}
     }},
    {"data": {"values": [{}]}, "mark": {"type": "rule", "color": "#C0504D", "strokeWidth": 1.5},
     "encoding": {"x": {"value": -41}, "x2": {"value": 312}, "y": {"value": -17}}}
   ]}
],
"columns": 2,
"spacing": {"row": 27, "column": 16},
"resolve": {"scale": {"color": "independent"}, "legend": {"color": "independent"}}
}
